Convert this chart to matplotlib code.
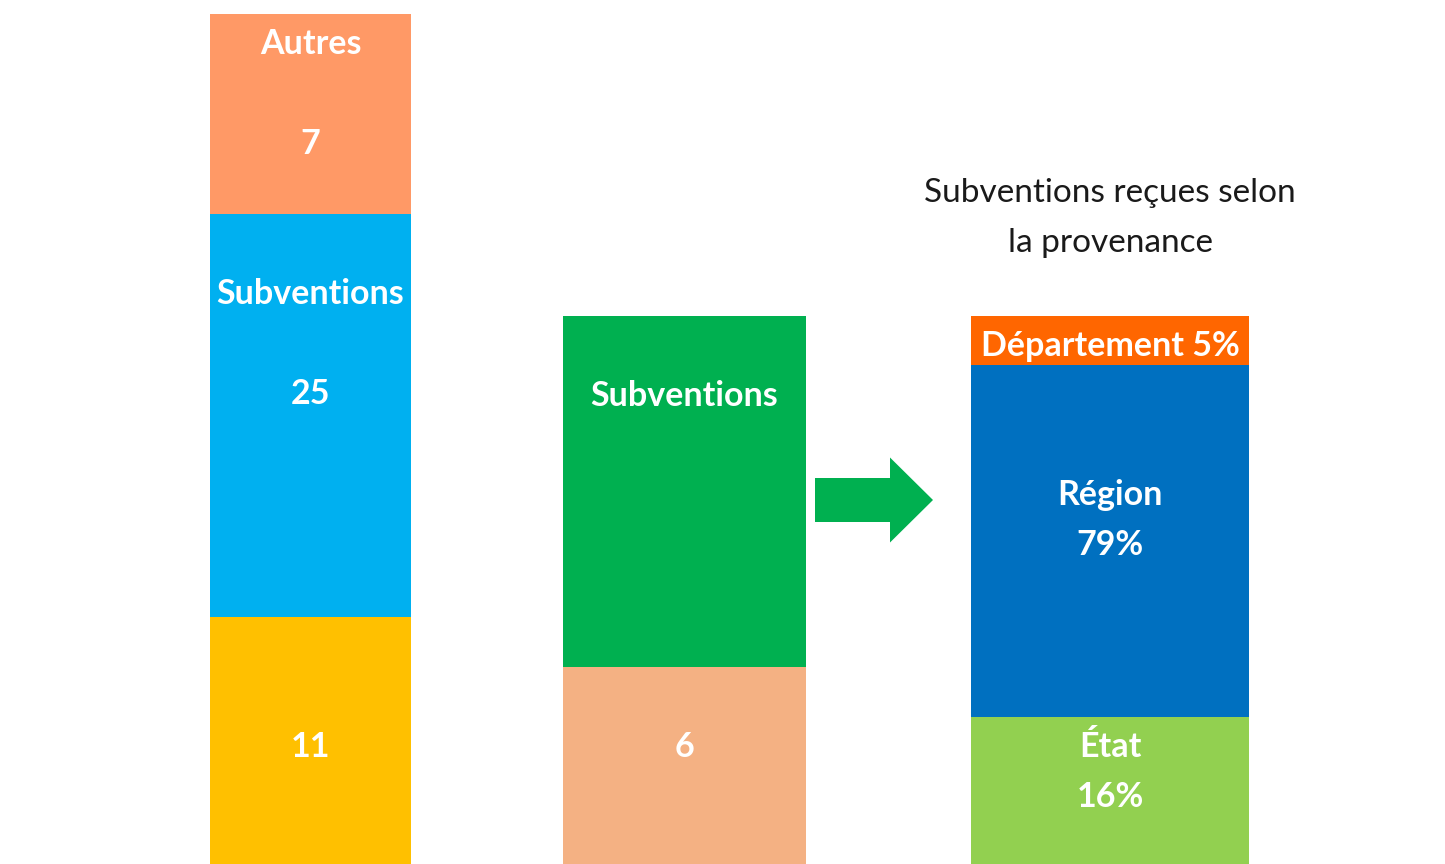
import matplotlib
matplotlib.use('Agg')
import matplotlib.pyplot as plt
from matplotlib.patches import FancyArrow

# --- data (segments listed bottom to top) ---
# budget bar: recettes
left_names = [None, 'Subventions', 'Autres']
left_values = ['11', '25', '7']
left_heights = [28.3, 40.3, 20.0]
left_colors = ['#FFC000', '#00B0F0', '#FF9966']

# middle bar: part of the budget coming from subventions
mid_names = [None, 'Subventions']
mid_values = ['6', None]
mid_heights = [23.3, 35.1]
mid_colors = ['#F4B183', '#00B050']

# right bar: subventions by source
right_names = ['État', 'Région', 'Département']
right_values = ['16%', '79%', '5%']
right_heights = [18.3, 35.2, 4.9]
right_colors = ['#92D050', '#0070C0', '#FF6600']

title = 'Subventions reçues selon\nla provenance'

# line slot of (name, value) inside each segment, counted from its top
left_slots = [(None, 2), (1, 3), (0, 2)]
mid_slots = [(None, 1), (1, None)]
right_slots = [(0, 1), (2, 3), (0, 0)]

LINE_TOP = 3.0    # gap from segment top to first text line
LINE_STEP = 5.0   # spacing between text lines

plt.rcParams['font.family'] = ['Lato', 'DejaVu Sans']

fig = plt.figure(figsize=(14.45, 8.64), dpi=100)
ax = fig.add_axes([0, 0, 1, 1])
ax.set_xlim(0, 144.5)
ax.set_ylim(3.6, 90)
ax.axis('off')


def draw_stack(x, width, names, values, heights, colors, slots):
    bottom = 0
    for name, val, h, c, (ns, vs) in zip(names, values, heights, colors, slots):
        ax.bar(x, h, width=width, bottom=bottom, color=c, linewidth=0)
        top = bottom + h
        lines = {}
        if name is not None:
            lines.setdefault(ns, []).append(name)
        if val is not None:
            lines.setdefault(vs, []).append(val)
        for slot, parts in lines.items():
            ax.text(x, top - LINE_TOP - LINE_STEP * slot, ' '.join(parts),
                    ha='center', va='center', color='white',
                    fontsize=24.5, fontweight='bold')
        bottom = top


draw_stack(31.05, 20.1, left_names, left_values, left_heights, left_colors, left_slots)
draw_stack(68.45, 24.3, mid_names, mid_values, mid_heights, mid_colors, mid_slots)
draw_stack(111.0, 27.8, right_names, right_values, right_heights, right_colors, right_slots)

# arrow from subventions to their breakdown
ax.add_patch(FancyArrow(81.5, 40.0, 11.8, 0, width=4.4, head_width=8.5,
                        head_length=4.3, length_includes_head=True,
                        color='#00B050', linewidth=0))

ax.text(111.0, 68.2, title, ha='center', va='center', fontsize=24,
        color='#1a1a1a', linespacing=1.8)

fig.savefig('out.png', dpi=100)
